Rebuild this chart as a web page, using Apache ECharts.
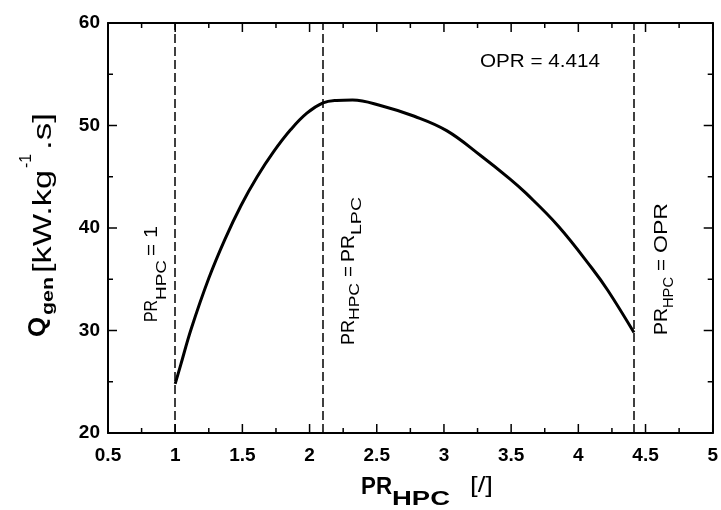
<!DOCTYPE html>
<html>
<head>
<meta charset="utf-8">
<script src="https://cdn.jsdelivr.net/npm/echarts@6/dist/echarts.min.js"></script>
<style>html,body{margin:0;padding:0;background:#fff}#c{width:721px;height:510px}</style>
</head>
<body>
<div id="c"></div>
<script>
// ---- data ----
const prHPC = [1.0, 1.04, 1.12, 1.25, 1.37, 1.49, 1.61, 1.73, 1.86, 1.98, 2.1, 2.2, 2.32, 2.54, 2.78, 3.02, 3.27, 3.49, 3.61, 3.85, 4.1, 4.22, 4.414];
const qGen  = [24.8, 26.6, 30.2, 35.1, 38.9, 42.2, 45.0, 47.4, 49.6, 51.2, 52.2, 52.45, 52.5, 51.9, 50.9, 49.5, 47.1, 44.8, 43.4, 40.2, 36.1, 33.9, 29.8];
const refLines = [1, 2.101, 4.414];          // PR_HPC = 1, PR_HPC = PR_LPC, PR_HPC = OPR
const oprText = 'OPR = 4.414';
const xTicks = [0.5, 1, 1.5, 2, 2.5, 3, 3.5, 4, 4.5, 5];
const yTicks = [20, 30, 40, 50, 60];

// ---- chart ----
const FF = '"Liberation Sans", Arial, Helvetica, sans-serif';
const xMin = xTicks[0], xMax = xTicks[xTicks.length - 1], xStep = xTicks[1] - xTicks[0];
const yMin = yTicks[0], yMax = yTicks[yTicks.length - 1], yStep = yTicks[1] - yTicks[0];
const chart = echarts.init(document.getElementById('c'), null, {renderer: 'canvas'});
function axisCommon() {
  return {
    axisLine: {show: true, onZero: false, lineStyle: {color: '#000', width: 2}},
    axisTick: {show: false},
    minorTick: {show: false},
    splitLine: {show: false},
    minorSplitLine: {show: false}
  };
}
function labelStyle(margin) {
  return {show: true, margin: margin, color: '#000', fontSize: 19, fontWeight: 'bold', fontFamily: FF,
          showMaxLabel: true, showMinLabel: true};
}
function mkAxis(min, max, step, pos, label) {
  return Object.assign({type: 'value', min: min, max: max, interval: step, position: pos,
    axisLabel: label}, axisCommon());
}

chart.setOption({
  animation: false,
  backgroundColor: '#fff',
  grid: {left: 108, right: -2, top: 23, bottom: 77, containLabel: false},
  xAxis: [
    mkAxis(xMin, xMax, xStep, 'bottom', labelStyle(13)),
    mkAxis(xMin, xMax, xStep, 'top', {show: false})
  ],
  yAxis: [
    mkAxis(yMin, yMax, yStep, 'left', labelStyle(8)),
    mkAxis(yMin, yMax, yStep, 'right', {show: false})
  ],
  series: [{
    type: 'line',
    data: prHPC.map((x, i) => [x, qGen[i]]),
    smooth: 0.4,
    showSymbol: false,
    lineStyle: {color: '#000', width: 3},
    z: 3,
    markLine: {
      silent: true,
      symbol: ['none', 'none'],
      label: {show: false},
      lineStyle: {color: '#000', width: 1.5, type: [9, 4]},
      data: refLines.map(v => ({xAxis: v}))
    }
  }]
});

// ---- pixel helpers through the grid's scales ----
const P = (x, y) => chart.convertToPixel({gridIndex: 0}, [x, y]);
const g = [];
function seg(x1, y1, x2, y2) {
  g.push({type: 'line', silent: true, z: 50, zlevel: 0,
          shape: {x1: x1, y1: y1, x2: x2, y2: y2},
          style: {stroke: '#000000', lineWidth: 1.5, fill: null}});
}
// inward tick marks on all four sides
const MAJ = 9, MINL = 5;
const bl = P(xMin, yMin), tr = P(xMax, yMax);
const yb = bl[1], yt = tr[1], xl = bl[0], xr = tr[0];
xTicks.forEach((v, i) => {
  const p = P(v, yMin)[0];
  seg(p, yb, p, yb - MAJ); seg(p, yt, p, yt + MAJ);
  if (i < xTicks.length - 1) {
    const m = P((v + xTicks[i + 1]) / 2, yMin)[0];
    seg(m, yb, m, yb - MINL); seg(m, yt, m, yt + MINL);
  }
});
yTicks.forEach((v, i) => {
  const p = P(xMin, v)[1];
  seg(xl, p, xl + MAJ, p); seg(xr, p, xr - MAJ, p);
  if (i < yTicks.length - 1) {
    const m = P(xMin, (v + yTicks[i + 1]) / 2)[1];
    seg(xl, m, xl + MINL, m); seg(xr, m, xr - MINL, m);
  }
});

// ---- annotations ----
const mctx = document.createElement('canvas').getContext('2d');
function tw(text, size, weight) {
  mctx.font = weight + ' ' + size + 'px ' + FF;
  return mctx.measureText(text).width;
}
const MID = 0.35;
function hPiece(text, size, weight, x0, x1, by) {
  const w = tw(text, size, weight);
  return {type: 'text', x: x0, y: by - MID * size, scaleX: (x1 - x0) / w, silent: true, z: 10,
    style: {text: text, fill: '#000', fontSize: size, fontWeight: weight, fontFamily: FF, align: 'left', verticalAlign: 'middle'}};
}
function vPiece(text, size, weight, y0, y1, bx) {
  const w = tw(text, size, weight);
  return {type: 'text', x: bx - MID * size, y: y0, rotation: Math.PI / 2, scaleX: (y0 - y1) / w, silent: true, z: 10,
    style: {text: text, fill: '#000', fontSize: size, fontWeight: weight, fontFamily: FF, align: 'left', verticalAlign: 'middle'}};
}
const lx = refLines.map(v => P(v, yMin)[0]);
// y-axis title
g.push(vPiece('Q', 24, 'bold', 337, 317, 47));
g.push(vPiece('gen', 17, 'bold', 315, 277, 54));
g.push(vPiece('[kW.kg', 26, 'normal', 273, 170, 53));
g.push(vPiece('-1', 16, 'normal', 168, 154, 32));
g.push(vPiece('.s]', 26, 'normal', 150, 113, 53));
// x-axis title
g.push(hPiece('PR', 23, 'bold', 361, 392, 496));
g.push(hPiece('HPC', 20, 'bold', 392, 450, 506));
g.push(hPiece('[/]', 22, 'normal', 470, 493, 494));
// OPR label
g.push(hPiece(oprText, 19, 'normal', 480, 600, 68));
// PR_HPC = 1
g.push(vPiece('PR', 19, 'normal', 322, 300, lx[0] - 17));
g.push(vPiece('HPC', 15, 'normal', 300, 260, lx[0] - 8));
g.push(vPiece('=', 19, 'normal', 256, 244, lx[0] - 17));
g.push(vPiece('1', 19, 'normal', 238, 226, lx[0] - 17));
// PR_HPC = PR_LPC
g.push(vPiece('PR', 19, 'normal', 345, 320, lx[1] + 32));
g.push(vPiece('HPC', 15, 'normal', 320, 283, lx[1] + 37));
g.push(vPiece('=', 19, 'normal', 277, 266, lx[1] + 32));
g.push(vPiece('PR', 19, 'normal', 262, 235, lx[1] + 32));
g.push(vPiece('LPC', 15, 'normal', 235, 197, lx[1] + 39));
// PR_HPC = OPR
g.push(vPiece('PR', 19, 'normal', 335, 308, lx[2] + 34));
g.push(vPiece('HPC', 15, 'normal', 308, 277, lx[2] + 40));
g.push(vPiece('=', 19, 'normal', 271, 259, lx[2] + 34));
g.push(vPiece('OPR', 19, 'normal', 253, 203, lx[2] + 34));
chart.setOption({graphic: {elements: g}});
</script>
</body>
</html>
